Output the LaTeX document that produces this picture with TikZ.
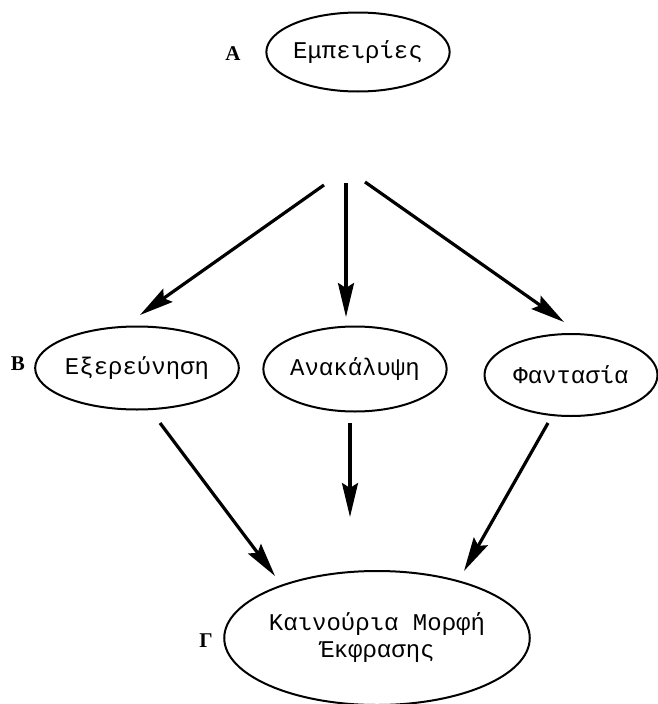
\documentclass[tikz,border=0pt]{standalone}
\usepackage{fontspec}
\setmainfont{Liberation Serif}
\newfontfamily\typefont{Liberation Mono}
\usetikzlibrary{shapes.geometric, arrows.meta}

\begin{document}
\begin{tikzpicture}[x=1pt, y=-1pt,
  stage/.style={draw, ellipse, line width=2pt, inner sep=0pt, align=center, font=\typefont\fontsize{24}{27}\selectfont},
  lvl/.style={font=\bfseries\fontsize{21}{24}\selectfont},
  flow/.style={line width=3.2pt, -{Stealth[length=34pt, width=16pt, inset=5pt]}}]
  \useasboundingbox (0,0) rectangle (658,704);

  % A: experiences
  \node[lvl] (la) at (233, 54) {A};
  \node[stage, minimum width=180pt, minimum height=79pt] (emp) at (358, 52) {Εμπειρίες};

  % B: three ways
  \node[lvl] (lb) at (18, 364) {B};
  \node[stage, minimum width=185pt, minimum height=83pt] (exp) at (137, 368) {Εξερεύνηση};
  \node[stage, minimum width=181pt, minimum height=85pt] (disc) at (355, 369) {Ανακάλυψη};
  \node[stage, minimum width=173pt, minimum height=82pt] (fant) at (571, 375) {Φαντασία};

  % Γ: new form of expression
  \node[lvl] (lg) at (206, 641) {Γ};
  \node[stage, minimum width=277pt, minimum height=134pt] (form) at (377, 638) {Καινούρια Μορφή\\Έκφρασης};

  % fork below A
  \coordinate (f1) at (324, 185);
  \coordinate (f2) at (346, 183);
  \coordinate (f3) at (365, 182);
  \coordinate (t1) at (140, 315);
  \coordinate (t2) at (346, 317);
  \coordinate (t3) at (564, 322);
  \draw[flow] (f1) -- (t1);
  \draw[flow] (f2) -- (t2);
  \draw[flow] (f3) -- (t3);

  % into Γ
  \coordinate (g1) at (160, 423);
  \coordinate (g2) at (350, 423);
  \coordinate (g3) at (548, 423);
  \coordinate (h1) at (275, 576);
  \coordinate (h2) at (350, 517);
  \coordinate (h3) at (464, 571);
  \draw[flow] (g1) -- (h1);
  \draw[flow] (g2) -- (h2);
  \draw[flow] (g3) -- (h3);
\end{tikzpicture}
\end{document}
